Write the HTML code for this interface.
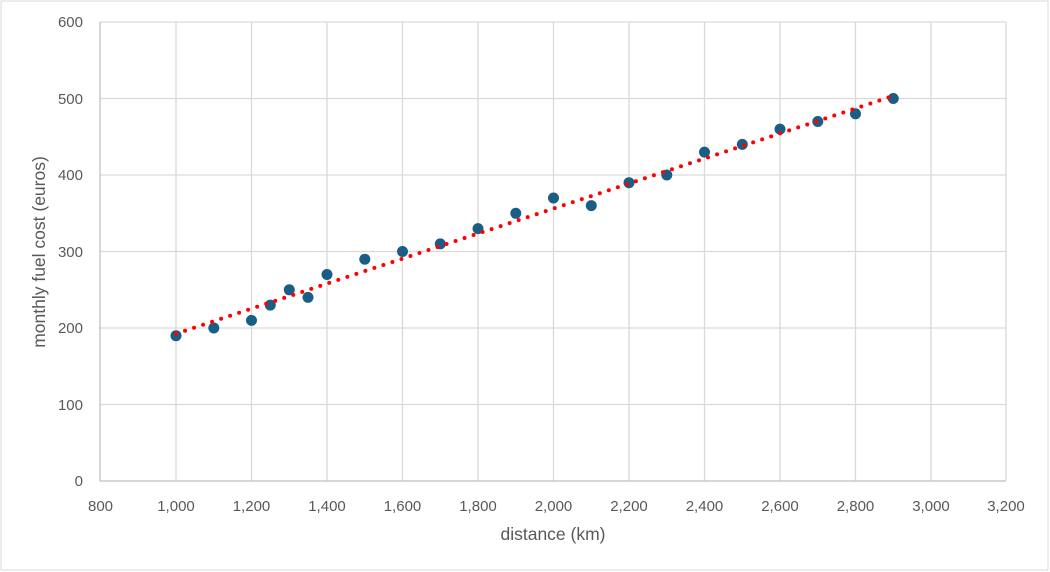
<!DOCTYPE html>
<html><head><meta charset="utf-8"><style>
body{margin:0;background:#fff;}
svg{display:block;font-family:"Liberation Sans",sans-serif;}
</style></head><body>
<svg width="1050" height="572" viewBox="0 0 1050 572">
<rect x="1" y="1" width="1047" height="569" fill="#fff" stroke="#d9d9d9" stroke-width="1"/>
<g stroke="#d9d9d9" stroke-width="1.3">
<line x1="176" y1="22" x2="176" y2="481"/><line x1="251.5" y1="22" x2="251.5" y2="481"/>
<line x1="327" y1="22" x2="327" y2="481"/><line x1="402.5" y1="22" x2="402.5" y2="481"/>
<line x1="478" y1="22" x2="478" y2="481"/><line x1="553.5" y1="22" x2="553.5" y2="481"/>
<line x1="629" y1="22" x2="629" y2="481"/><line x1="704.5" y1="22" x2="704.5" y2="481"/>
<line x1="780" y1="22" x2="780" y2="481"/><line x1="855.5" y1="22" x2="855.5" y2="481"/>
<line x1="931" y1="22" x2="931" y2="481"/><line x1="1006" y1="22" x2="1006" y2="481"/>
<line x1="100" y1="22" x2="1006" y2="22"/><line x1="100" y1="98.5" x2="1006" y2="98.5"/>
<line x1="100" y1="175" x2="1006" y2="175"/><line x1="100" y1="251.5" x2="1006" y2="251.5"/>
<line x1="100" y1="328" x2="1006" y2="328"/><line x1="100" y1="404.5" x2="1006" y2="404.5"/>
</g>
<g stroke="#bfbfbf" stroke-width="1.3">
<line x1="100" y1="22" x2="100" y2="481"/><line x1="100" y1="481" x2="1006" y2="481"/>
</g>
<g fill="#595959" font-size="15" text-anchor="end">
<text x="83" y="486">0</text><text x="83" y="410">100</text><text x="83" y="333">200</text>
<text x="83" y="257">300</text><text x="83" y="180">400</text><text x="83" y="104">500</text><text x="83" y="27">600</text>
</g>
<g fill="#595959" font-size="15" text-anchor="middle">
<text x="100.5" y="511">800</text><text x="176" y="511">1,000</text><text x="251.5" y="511">1,200</text>
<text x="327" y="511">1,400</text><text x="402.5" y="511">1,600</text><text x="478" y="511">1,800</text>
<text x="553.5" y="511">2,000</text><text x="629" y="511">2,200</text><text x="704.5" y="511">2,400</text>
<text x="780" y="511">2,600</text><text x="855.5" y="511">2,800</text><text x="931" y="511">3,000</text>
<text x="1006" y="511">3,200</text>
<text x="553" y="540" font-size="17.5">distance (km)</text>
<text transform="translate(45,252) rotate(-90)" font-size="17.5">monthly fuel cost (euros)</text>
</g>
<g fill="#1a5e85">
<circle cx="176" cy="335.7" r="5.5"/><circle cx="213.8" cy="328" r="5.5"/><circle cx="251.5" cy="320.4" r="5.5"/>
<circle cx="270.3" cy="305.1" r="5.5"/><circle cx="289.3" cy="289.8" r="5.5"/><circle cx="308" cy="297.4" r="5.5"/>
<circle cx="327" cy="274.5" r="5.5"/><circle cx="364.8" cy="259.2" r="5.5"/><circle cx="402.5" cy="251.5" r="5.5"/>
<circle cx="440.3" cy="243.9" r="5.5"/><circle cx="478" cy="228.6" r="5.5"/><circle cx="515.8" cy="213.3" r="5.5"/>
<circle cx="553.5" cy="198" r="5.5"/><circle cx="591.3" cy="205.6" r="5.5"/><circle cx="629" cy="182.7" r="5.5"/>
<circle cx="666.8" cy="175" r="5.5"/><circle cx="704.5" cy="152.1" r="5.5"/><circle cx="742.3" cy="144.4" r="5.5"/>
<circle cx="780" cy="129.1" r="5.5"/><circle cx="817.8" cy="121.5" r="5.5"/><circle cx="855.5" cy="113.8" r="5.5"/>
<circle cx="893.3" cy="98.5" r="5.5"/>
</g>
<line x1="176" y1="333.7" x2="890" y2="97" stroke="#ff0000" stroke-width="4" stroke-linecap="round" stroke-dasharray="0 9.5"/>
</svg>
</body></html>
